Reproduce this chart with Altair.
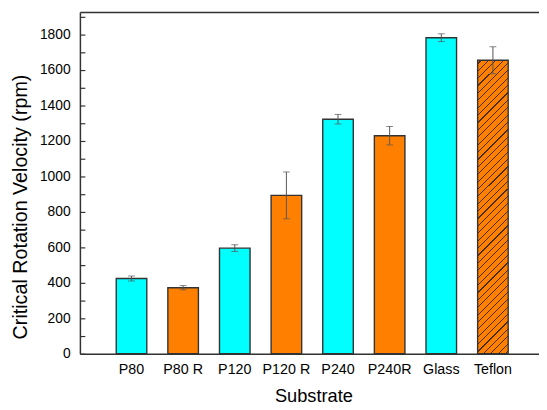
import altair as alt
import pandas as pd

# ---- data ----
substrates = ["P80", "P80 R", "P120", "P120 R", "P240", "P240R", "Glass", "Teflon"]
velocity = [424, 372, 595, 892, 1321, 1228, 1780, 1653]
error = [14, 12, 19, 132, 27, 52, 22, 76]
surface = ["sanded", "roughened", "sanded", "roughened", "sanded", "roughened", "sanded", "teflon"]
y_ticks = [0, 100, 200, 300, 400, 500, 600, 700, 800, 900, 1000,
           1100, 1200, 1300, 1400, 1500, 1600, 1700, 1800, 1900]

df = pd.DataFrame({"substrate": substrates, "velocity": velocity,
                   "error": error, "surface": surface})
df["lo"] = df["velocity"] - df["error"]
df["hi"] = df["velocity"] + df["error"]

FONT = "Liberation Sans, Arial, sans-serif"
CYAN = "#00FFFF"
ORANGE = "#FF8000"
FRAME = "#333333"
ERR = "#555555"

# ---- hatch fill (style) for the Teflon bar: diagonal stripes via hard-stop gradient ----
BAR_W, BAR_H = 31.0, 298.0
a = BAR_W / BAR_H
k = 1.1
scale_c = 1.0 / (BAR_H * k * (1 + a * a))   # gradient t per pixel of (x + y)
period, lw = 7.5, 1.2
stops = [{"offset": 0, "color": ORANGE}]
c = 3.0
while (c + lw) * scale_c < 1:
    t0 = round(c * scale_c, 5)
    t1 = round((c + lw) * scale_c, 5)
    stops += [{"offset": t0, "color": ORANGE}, {"offset": t0, "color": "#4a2e12"},
              {"offset": t1, "color": "#4a2e12"}, {"offset": t1, "color": ORANGE}]
    c += period
stops.append({"offset": 1, "color": ORANGE})
hatch = {"gradient": "linear", "x1": 0, "y1": 0, "x2": a * k, "y2": k, "stops": stops}

x_scale = alt.Scale(domain=substrates, paddingInner=0.408, paddingOuter=0.65, align=0.541)
y_scale = alt.Scale(domain=[0, 1925], nice=False, zero=True)

x_bottom = alt.Axis(title="Substrate", orient="bottom", labelAngle=0, ticks=False,
                    labelPadding=9, labelFontSize=14.5, titleFontSize=18.5,
                    titleFontWeight="normal", labelFont=FONT, titleFont=FONT,
                    titleY=48, titleX=237, titleBaseline="alphabetic", titleAlign="center",
                    domainColor=FRAME, domainWidth=1.5, zindex=1, grid=False,
                    labelColor="#000000", titleColor="#000000")
x_top = alt.Axis(orient="top", labels=False, ticks=False, title=None,
                 domainColor=FRAME, domainWidth=1.5, zindex=1, grid=False)
y_main = alt.Axis(title="Critical Rotation Velocity (rpm)", orient="left", values=y_ticks,
                  format="d", labelExpr="datum.value % 200 == 0 ? datum.label : ''",
                  ticks=True, tickSize={"expr": "-5"}, tickColor=FRAME, tickWidth=1.2,
                  labelPadding=15, labelFontSize=14, titleFontSize=20,
                  titleFontWeight="normal", labelFont=FONT, titleFont=FONT,
                  titleX=-54, titleY=197.5, titleAngle=270, titleAlign="center",
                  titleBaseline="alphabetic", domainColor=FRAME, domainWidth=1.5,
                  zindex=1, grid=False, labelColor="#000000", titleColor="#000000")

base = alt.Chart(df)

bars = base.transform_filter(alt.datum.surface != "teflon").mark_bar(
    stroke=FRAME, strokeWidth=1.4
).encode(
    x=alt.X("substrate:N", sort=substrates, scale=x_scale, axis=x_bottom),
    y=alt.Y("velocity:Q", scale=y_scale, axis=y_main),
    color=alt.Color("surface:N", scale=alt.Scale(domain=["sanded", "roughened"],
                                                 range=[CYAN, ORANGE]), legend=None),
)

teflon = base.transform_filter(alt.datum.surface == "teflon").mark_bar(
    fill=hatch, stroke=FRAME, strokeWidth=1.4
).encode(
    x=alt.X("substrate:N", sort=substrates, scale=x_scale, axis=x_top),
    y=alt.Y("velocity:Q", scale=y_scale, axis=None),
)

err_line = base.mark_rule(color=ERR, strokeWidth=1).encode(
    x=alt.X("substrate:N", sort=substrates, scale=x_scale, axis=None),
    y=alt.Y("lo:Q", scale=y_scale, axis=None),
    y2="hi:Q",
)
cap_lo = base.mark_tick(color=ERR, size=7, thickness=1).encode(
    x=alt.X("substrate:N", sort=substrates, scale=x_scale, axis=None),
    y=alt.Y("lo:Q", scale=y_scale, axis=None),
)
cap_hi = base.mark_tick(color=ERR, size=7, thickness=1).encode(
    x=alt.X("substrate:N", sort=substrates, scale=x_scale, axis=None),
    y=alt.Y("hi:Q", scale=y_scale, axis=None),
)

chart = alt.layer(bars, teflon, err_line, cap_lo, cap_hi).resolve_axis(
    x="independent", y="independent"
).properties(
    width=466, height=347,
    autosize=alt.AutoSizeParams(type="none"),
    padding={"left": 73, "top": 1, "right": 0, "bottom": 50},
).configure_view(stroke=None).configure(background="white")

chart.save("out.html", embed_options={"renderer": "svg", "actions": False})
